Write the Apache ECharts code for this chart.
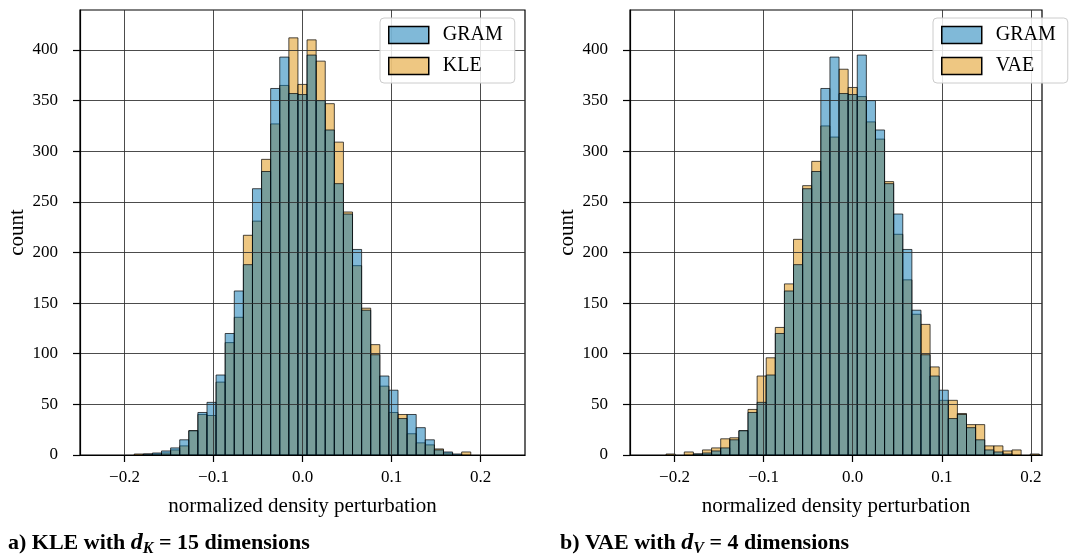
<!DOCTYPE html>
<html>
<head>
<meta charset="utf-8">
<script src="https://cdn.jsdelivr.net/npm/echarts@6/dist/echarts.min.js"></script>
<style>
html,body{margin:0;padding:0;background:#fff;}
#chart{width:1070px;height:555px;}
</style>
</head>
<body>
<div id="chart"></div>
<script>
// ---- data ----
const binWidth = 0.01022;
const binIndex = [-20,-19,-18,-17,-16,-15,-14,-13,-12,-11,-10,-9,-8,-7,-6,-5,-4,-3,-2,-1,0,1,2,3,4,5,6,7,8,9,10,11,12,13,14,15,16,17,18,19,20];
const gramCounts = [0,0,0,1,2,4,7,15,24,42,52,79,120,162,188,263,280,362,393,357,356,395,350,321,268,238,203,143,99,78,64,36,40,27,15,5,3,1,0,0,0];
const kleCounts  = [0,0,1,1,1,2,5,9,24,40,39,72,111,136,217,231,292,327,365,412,366,410,389,347,309,240,187,145,109,68,42,40,21,12,10,6,2,0,3,0,0];
const vaeCounts  = [1,0,3,1,5,7,16,17,24,45,78,96,126,169,213,266,290,325,314,381,363,354,329,312,270,218,173,139,129,87,54,54,41,30,30,9,9,4,5,0,1];
const xTicks = [-0.2,-0.1,0.0,0.1,0.2];
const yTicks = [0,50,100,150,200,250,300,350,400];
const xLabel = 'normalized density perturbation';
const yLabel = 'count';

const blue = 'rgba(1,115,178,0.5)';
const orange = 'rgba(222,143,5,0.5)';
const serif = '"Liberation Serif","DejaVu Serif",serif';

function toData(counts){ return binIndex.map((k,i)=>[k*binWidth, counts[i]]); }

function barRenderer(fill){
  return function(params, api){
    const c = api.value(0), v = api.value(1);
    if (!(v > 0)) return null;
    const p0 = api.coord([c - binWidth/2, v]);
    const p1 = api.coord([c + binWidth/2, 0]);
    return {type:'rect', shape:{x:p0[0], y:p0[1], width:p1[0]-p0[0], height:p1[1]-p0[1]},
            style:{fill:fill, stroke:'rgba(0,0,0,0.7)', lineWidth:1}};
  };
}

function fmtX(v){ return (Math.abs(v)<1e-9 ? '0.0' : v.toFixed(1)).replace('-','\u2212'); }

function xAxisCfg(gridIndex, max){
  return {
    type:'value', gridIndex, min:-0.25, max:max, z:10,
    name:xLabel, nameLocation:'middle', nameGap:41,
    nameTextStyle:{fontFamily:serif, fontSize:21, color:'#000'},
    axisLine:{show:true, onZero:false, lineStyle:{color:'#000', width:1.2}},
    axisTick:{show:true, length:7, customValues:xTicks, lineStyle:{color:'#000', width:1.2}},
    axisLabel:{customValues:xTicks, formatter:fmtX, fontFamily:serif, fontSize:17, color:'#000', margin:14},
    splitLine:{show:true, lineStyle:{color:'rgba(45,45,45,0.85)', width:1}}
  };
}
function yAxisCfg(gridIndex){
  return {
    type:'value', gridIndex, min:0, max:439.5, z:10,
    name:yLabel, nameLocation:'middle', nameGap:52,
    nameTextStyle:{fontFamily:serif, fontSize:21, color:'#000'},
    axisLine:{show:true, onZero:false, lineStyle:{color:'#000', width:1.2}},
    axisTick:{show:true, length:7, customValues:yTicks, lineStyle:{color:'#000', width:1.2}},
    axisLabel:{customValues:yTicks, fontFamily:serif, fontSize:17, color:'#000', margin:22},
    splitLine:{show:true, lineStyle:{color:'rgba(45,45,45,0.85)', width:1}}
  };
}
function legendCfg(left, names, colors, padRight){
  return {
    orient:'vertical', left:left, top:18, icon:'rect',
    itemWidth:40, itemHeight:17, itemGap:11,
    padding:[7,padRight,7,8],
    backgroundColor:'rgba(255,255,255,0.85)', borderColor:'#cccccc', borderWidth:1, borderRadius:4,
    textStyle:{fontFamily:serif, fontSize:20, color:'#000', padding:[0,0,0,9]},
    data: names.map((n,i)=>({name:n, itemStyle:{color:colors[i], borderColor:'#000', borderWidth:1.5}})),
    selectedMode:false, z:20
  };
}

const capRich = {
  b:{fontFamily:serif, fontSize:22, fontWeight:'bold', fill:'#000'},
  m:{fontFamily:serif, fontSize:24, fontWeight:'bold', fontStyle:'italic', fill:'#000'},
  s:{fontFamily:serif, fontSize:16, fontWeight:'bold', fontStyle:'italic', fill:'#000', padding:[11,0,0,0]}
};

const chart = echarts.init(document.getElementById('chart'), null, {renderer:'canvas'});
chart.setOption({
  animation:false,
  backgroundColor:'#fff',
  grid:[
    {left:80, right:545, top:10, bottom:100, show:true, borderColor:'#000', borderWidth:1.2, backgroundColor:'transparent'},
    {left:630, right:28, top:10, bottom:100, show:true, borderColor:'#000', borderWidth:1.2, backgroundColor:'transparent'}
  ],
  xAxis:[xAxisCfg(0, 0.25), xAxisCfg(1, 0.2125)],
  yAxis:[yAxisCfg(0), yAxisCfg(1)],
  legend:[legendCfg(380, ['GRAM','KLE'], [blue, orange], 12), legendCfg(933, ['GRAM ','VAE'], [blue, orange], 7)],
  series:[
    {type:'custom', name:'KLE', xAxisIndex:0, yAxisIndex:0, data:toData(kleCounts), renderItem:barRenderer(orange), itemStyle:{color:orange}, z:2},
    {type:'custom', name:'GRAM', xAxisIndex:0, yAxisIndex:0, data:toData(gramCounts), renderItem:barRenderer(blue), itemStyle:{color:blue}, z:3},
    {type:'custom', name:'VAE', xAxisIndex:1, yAxisIndex:1, data:toData(vaeCounts), renderItem:barRenderer(orange), itemStyle:{color:orange}, z:2},
    {type:'custom', name:'GRAM ', xAxisIndex:1, yAxisIndex:1, data:toData(gramCounts), renderItem:barRenderer(blue), itemStyle:{color:blue}, z:3}
  ],
  graphic:[
    {type:'text', left:8, top:531, style:{text:'{b|a) KLE with }{m|d}{s|K}{b| = 15 dimensions}', rich:capRich}},
    {type:'text', left:560, top:531, style:{text:'{b|b) VAE with }{m|d}{s|V}{b| = 4 dimensions}', rich:capRich}}
  ]
});
</script>
</body>
</html>
